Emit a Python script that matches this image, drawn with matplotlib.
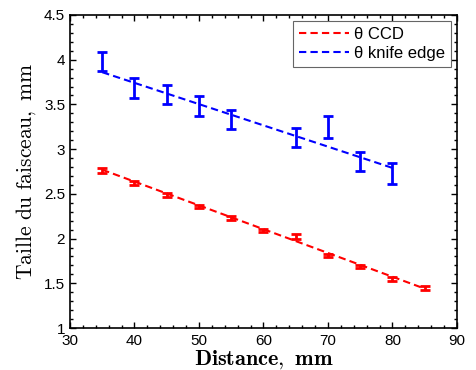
import numpy as np
import matplotlib
matplotlib.use("Agg")
import matplotlib.pyplot as plt
from matplotlib.ticker import MultipleLocator

plt.rcParams["mathtext.fontset"] = "cm"
plt.rcParams["font.family"] = ["Liberation Sans", "DejaVu Sans"]

# measured points (error bars)
dist_ccd = [35, 40, 45, 50, 55, 60, 65, 70, 75, 80, 85]
taille_ccd = [2.76, 2.62, 2.49, 2.36, 2.23, 2.09, 2.02, 1.81, 1.69, 1.55, 1.45]
err_ccd = [0.025, 0.02, 0.02, 0.02, 0.02, 0.02, 0.03, 0.02, 0.02, 0.02, 0.02]

dist_ke = [35, 40, 45, 50, 55, 65, 70, 75, 80]
taille_ke = [3.98, 3.68, 3.61, 3.48, 3.33, 3.13, 3.25, 2.86, 2.73]
err_ke = [0.11, 0.11, 0.11, 0.11, 0.11, 0.11, 0.12, 0.11, 0.12]

# linear fits (dashed lines)
fit_ccd_x = [35, 85]
fit_ccd_y = [2.77, 1.44]
fit_ke_x = [35, 80]
fit_ke_y = [3.86, 2.79]

fig = plt.figure(figsize=(4.76, 3.70), dpi=100)
ax = fig.add_axes([0.147, 0.1135, 0.813, 0.846])

ax.plot(fit_ccd_x, fit_ccd_y, color="#ff0000", lw=1.5, dashes=(3.5, 2),
        label="θ CCD")
ax.plot(fit_ke_x, fit_ke_y, color="#0000ff", lw=1.5, dashes=(3.5, 2),
        label="θ knife edge")
ax.errorbar(dist_ccd, taille_ccd, yerr=err_ccd, fmt="none", ecolor="#ff0000",
            elinewidth=2, capsize=3.5, capthick=2)
ax.errorbar(dist_ke, taille_ke, yerr=err_ke, fmt="none", ecolor="#0000ff",
            elinewidth=2, capsize=3.5, capthick=2)

ax.set_xlim(30, 90); ax.set_ylim(1, 4.5)
ax.xaxis.set_major_locator(MultipleLocator(10))
ax.xaxis.set_minor_locator(MultipleLocator(2))
ax.yaxis.set_major_locator(MultipleLocator(0.5))
ax.yaxis.set_minor_locator(MultipleLocator(0.1))
ax.set_yticks(np.arange(1, 4.51, 0.5), ["1", "1.5", "2", "2.5", "3", "3.5", "4", "4.5"])
ax.tick_params(which="both", direction="in", top=True, right=True, labelsize=11)
ax.tick_params(which="major", length=4, width=1)
ax.tick_params(which="minor", length=2, width=1)
ax.tick_params(axis="x", pad=4)
for s in ax.spines.values():
    s.set_linewidth(1.2)

ax.set_xlabel(r"$\mathbf{Distance,\ mm}$", fontsize=16, labelpad=0.5)
ax.set_ylabel(r"$\mathrm{Taille\ du\ faisceau,\ mm}$", fontsize=15.5, labelpad=4)

leg = ax.legend(loc="upper right", fontsize=12, handlelength=3.0, handletextpad=0.3,
                borderpad=0.35, labelspacing=0.25, fancybox=False, framealpha=1,
                borderaxespad=0.35)
leg.get_frame().set_edgecolor("#666666")
leg.get_frame().set_linewidth(0.8)

fig.savefig("out.png", dpi=100)
